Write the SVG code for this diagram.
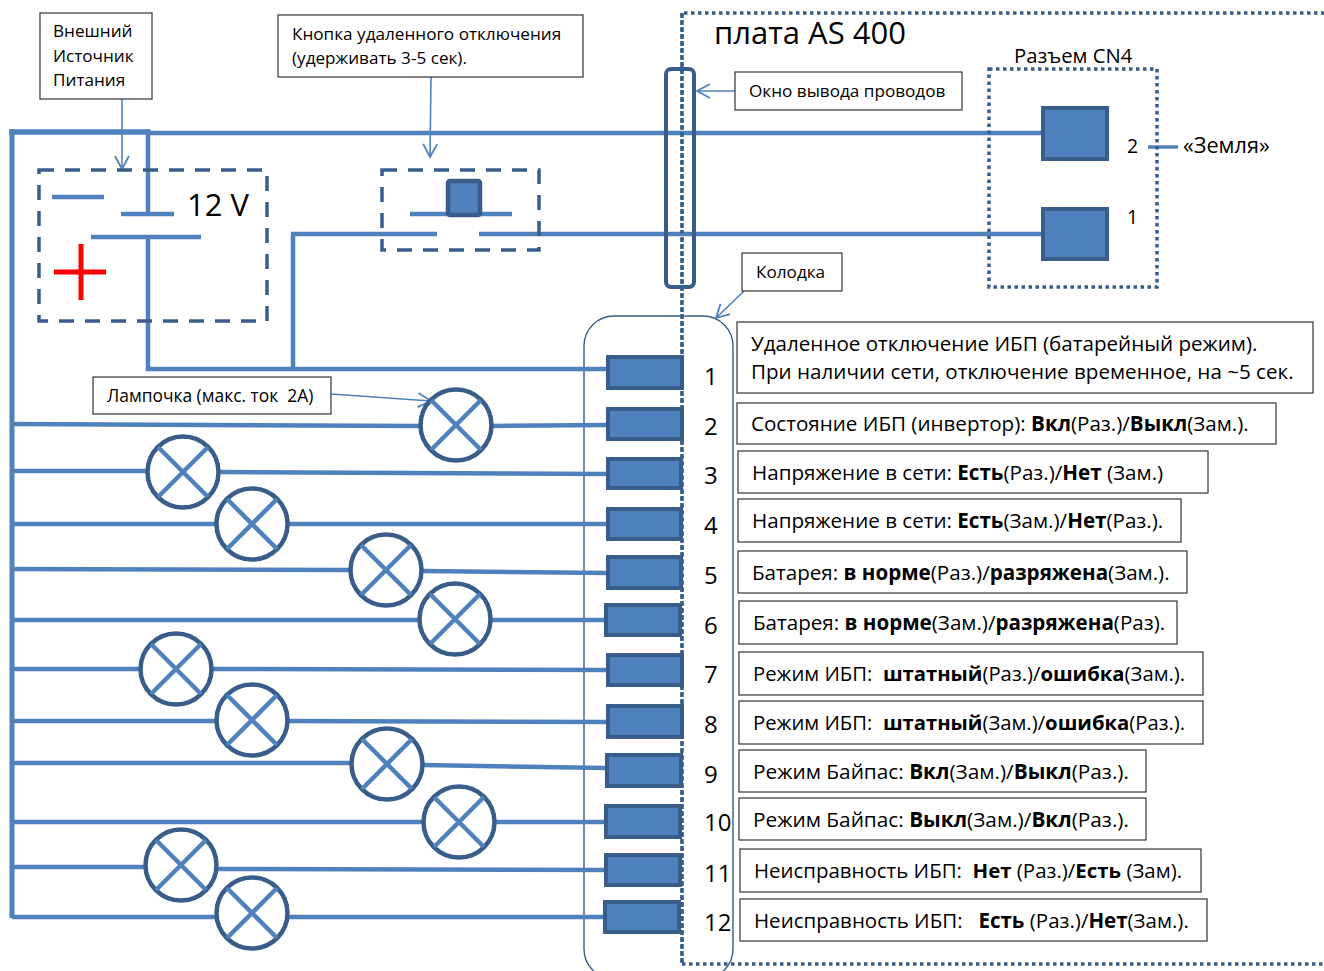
<svg xmlns="http://www.w3.org/2000/svg" width="1324" height="971" viewBox="0 0 1324 971">
<style>
text{font-family:"Open Sans","Noto Sans","Liberation Sans",sans-serif;fill:#000}
.s{font-size:17.15px}
.m{font-size:20.6px}
.n{font-size:24px}
.g{font-size:21.7px}
.p{font-size:19.5px}
.b{font-weight:700}
.box{fill:#fff;stroke:#333;stroke-width:1.2}
.w{fill:none;stroke:#4f81bd;stroke-width:4.5}
.thin{fill:none;stroke:#4f81bd;stroke-width:1.6}
.term{fill:#4f81bd;stroke:#385d8a;stroke-width:4}
.dash{fill:none;stroke:#385d8a;stroke-width:3.5;stroke-dasharray:15 11}
.dot{fill:none;stroke:#385d8a;stroke-width:3.5;stroke-dasharray:3.5 3.5}
.lamp{fill:#fff;stroke:#385d8a;stroke-width:4.5}
.x{stroke:#4f81bd;stroke-width:4.5}
</style>
<defs>
<marker id="arr" markerWidth="20" markerHeight="20" refX="15" refY="8" orient="auto" markerUnits="userSpaceOnUse"><path d="M2 1L15 8L2 15" fill="none" stroke="#4f81bd" stroke-width="1.8"/></marker>
<g id="lampSym"><circle r="35.5" class="lamp"/><path class="x" d="M-25 -25L25 25M-25 25L25 -25"/></g>
</defs>

<g id="board-frame">
<path class="dot" d="M682 963V13H1324"/>
<path class="dot" d="M682 964H1324"/>
</g>
<text x="714" y="44" id="board-label" style="font-size:31px">плата AS 400</text>

<g id="kolodka-body"><rect x="584" y="316" width="149" height="663" rx="30" ry="30" fill="none" stroke="#385d8a" stroke-width="1.4"/></g>

<g id="connectors">
<path class="w" style="stroke-width:5.5" d="M9 132H148"/>
<path class="w" d="M148 133H1043"/>
<path class="w" style="stroke-width:5" d="M12 129V918"/>
<path class="w" d="M148 129V212M148 238V369H608M293 369V234H437M479 234H1043"/>
<path class="w" d="M121 214H174M91 237H201M52 197H104M410 214H512"/>
<path class="w" d="M12 424L420 426M493 426L608 425"/>
<path class="w" d="M12 471H148M220 472L608 474"/>
<path class="w" d="M12 524H216M288 524H608"/>
<path class="w" d="M12 569L350 570M423 571L608 573"/>
<path class="w" d="M12 620H418M491 620H606"/>
<path class="w" d="M12 669H140M212 669L608 670"/>
<path class="w" d="M12 721H216M288 721L608 722"/>
<path class="w" d="M12 763H351M423 765L607 768"/>
<path class="w" d="M12 822H423M495 822H606"/>
<path class="w" d="M12 867H145M217 869L606 870"/>
<path class="w" d="M12 917H216M288 917H605"/>
<path class="w" style="stroke-width:3.5" d="M1148 147H1178"/>
<path class="thin" marker-end="url(#arr)" d="M122 99V169"/>
<path class="thin" marker-end="url(#arr)" d="M431 77L430 157"/>
<path class="thin" marker-end="url(#arr)" d="M735 91H697"/>
<path class="thin" marker-end="url(#arr)" d="M744 291L716 318"/>
<path class="thin" marker-end="url(#arr)" d="M331 394L431 401"/>
</g>

<g id="battery">
<rect x="39" y="170" width="228" height="151" class="dash"/>
<path d="M54 272H106M81 244V300" stroke="#f00" stroke-width="5" fill="none"/>
<text x="187" y="216" style="font-size:31px">12 V</text>
</g>
<g id="switch">
<rect x="382" y="170" width="157" height="80" class="dash"/>
<rect x="448" y="181" width="32" height="34" rx="2" class="term" style="stroke-width:4.5"/>
</g>
<g id="window"><rect x="666" y="69" width="28" height="218" rx="5" fill="none" stroke="#385d8a" stroke-width="4"/></g>
<g id="cn4">
<rect x="989" y="69" width="168" height="218" class="dot"/>
<text x="1014" y="63" style="font-size:20.3px">Разъем CN4</text>
<rect x="1043" y="108" width="64" height="51" class="term"/>
<rect x="1043" y="209" width="64" height="50" class="term"/>
<text x="1127" y="153" class="p">2</text>
<text x="1127" y="224" class="p">1</text>
<text x="1183" y="153" class="g">«Земля»</text>
</g>

<g id="lamps">
<use href="#lampSym" x="456" y="425"/>
<use href="#lampSym" x="183" y="472"/>
<use href="#lampSym" x="252" y="524"/>
<use href="#lampSym" x="386" y="570"/>
<use href="#lampSym" x="455" y="619"/>
<use href="#lampSym" x="176" y="669"/>
<use href="#lampSym" x="252" y="720"/>
<use href="#lampSym" x="387" y="764"/>
<use href="#lampSym" x="459" y="822"/>
<use href="#lampSym" x="181" y="865"/>
<use href="#lampSym" x="252" y="913"/>
</g>

<g id="terminals">
<rect x="608" y="357" width="74" height="31" class="term"/>
<rect x="608" y="409" width="74" height="30" class="term"/>
<rect x="608" y="459" width="73" height="29" class="term"/>
<rect x="608" y="509" width="73" height="30" class="term"/>
<rect x="608" y="557" width="73" height="31" class="term"/>
<rect x="606" y="605" width="74" height="30" class="term"/>
<rect x="608" y="655" width="74" height="30" class="term"/>
<rect x="608" y="706" width="74" height="31" class="term"/>
<rect x="607" y="755" width="74" height="31" class="term"/>
<rect x="606" y="806" width="74" height="31" class="term"/>
<rect x="606" y="855" width="74" height="30" class="term"/>
<rect x="605" y="902" width="74" height="30" class="term"/>
</g>
<path id="board-edge" class="dot" d="M682 13V963"/>

<g id="pin-numbers">
<text x="704" y="385" class="n">1</text>
<text x="704" y="435" class="n">2</text>
<text x="704" y="484" class="n">3</text>
<text x="704" y="534" class="n">4</text>
<text x="704" y="584" class="n">5</text>
<text x="704" y="634" class="n">6</text>
<text x="704" y="683" class="n">7</text>
<text x="704" y="733" class="n">8</text>
<text x="704" y="783" class="n">9</text>
<text x="704" y="831" class="n">10</text>
<text x="704" y="882" class="n">11</text>
<text x="704" y="931" class="n">12</text>
</g>

<g id="label-source"><rect x="40" y="13" width="112" height="86" class="box"/>
<text class="s" x="53" y="37">Внешний</text><text class="s" x="53" y="62">Источник</text><text class="s" x="53" y="86">Питания</text></g>
<g id="label-button"><rect x="278" y="15" width="305" height="62" class="box"/>
<text class="s" x="292" y="40">Кнопка удаленного отключения</text><text class="s" x="292" y="64">(удерживать 3-5 сек).</text></g>
<g id="label-window"><rect x="735" y="72" width="227" height="38" class="box"/><text class="s" x="749" y="97">Окно вывода проводов</text></g>
<g id="label-kolodka"><rect x="742" y="253" width="100" height="38" class="box"/><text class="s" x="756" y="278">Колодка</text></g>
<g id="label-lamp"><rect x="93" y="377" width="238" height="37" class="box"/><text x="107" y="402" xml:space="preserve" style="font-size:17.4px">Лампочка (макс. ток  2А)</text></g>

<g id="desc-1"><rect x="737" y="322" width="576" height="71" class="box"/><text class="m" x="751" y="351">Удаленное отключение ИБП (батарейный режим).</text><text class="m" x="751" y="379">При наличии сети, отключение временное, на ~5 сек.</text></g>
<g id="desc-2"><rect x="737" y="403" width="539" height="41" class="box"/><text class="m" x="751" y="431">Состояние ИБП (инвертор): <tspan class="b">Вкл</tspan>(Раз.)/<tspan class="b">Выкл</tspan>(Зам.).</text></g>
<g id="desc-3"><rect x="738" y="451" width="470" height="42" class="box"/><text class="m" x="752" y="480">Напряжение в сети: <tspan class="b">Есть</tspan>(Раз.)/<tspan class="b">Нет</tspan> (Зам.)</text></g>
<g id="desc-4"><rect x="738" y="499" width="443" height="43" class="box"/><text class="m" x="752" y="528">Напряжение в сети: <tspan class="b">Есть</tspan>(Зам.)/<tspan class="b">Нет</tspan>(Раз.).</text></g>
<g id="desc-5"><rect x="738" y="551" width="449" height="42" class="box"/><text class="m" x="752" y="580">Батарея: <tspan class="b">в норме</tspan>(Раз.)/<tspan class="b">разряжена</tspan>(Зам.).</text></g>
<g id="desc-6"><rect x="739" y="601" width="438" height="43" class="box"/><text class="m" x="753" y="630">Батарея: <tspan class="b">в норме</tspan>(Зам.)/<tspan class="b">разряжена</tspan>(Раз).</text></g>
<g id="desc-7"><rect x="739" y="652" width="464" height="43" class="box"/><text x="753" y="681" xml:space="preserve" style="font-size:20.27px">Режим ИБП:  <tspan class="b">штатный</tspan>(Раз.)/<tspan class="b">ошибка</tspan>(Зам.).</text></g>
<g id="desc-8"><rect x="739" y="701" width="464" height="43" class="box"/><text x="753" y="730" xml:space="preserve" style="font-size:20.27px">Режим ИБП:  <tspan class="b">штатный</tspan>(Зам.)/<tspan class="b">ошибка</tspan>(Раз.).</text></g>
<g id="desc-9"><rect x="739" y="750" width="407" height="42" class="box"/><text x="753" y="779" style="font-size:20.8px">Режим Байпас: <tspan class="b">Вкл</tspan>(Зам.)/<tspan class="b">Выкл</tspan>(Раз.).</text></g>
<g id="desc-10"><rect x="739" y="798" width="407" height="42" class="box"/><text x="753" y="827" style="font-size:20.8px">Режим Байпас: <tspan class="b">Выкл</tspan>(Зам.)/<tspan class="b">Вкл</tspan>(Раз.).</text></g>
<g id="desc-11"><rect x="740" y="849" width="461" height="43" class="box"/><text x="754" y="878" xml:space="preserve" style="font-size:20.45px">Неисправность ИБП:  <tspan class="b">Нет</tspan> (Раз.)/<tspan class="b">Есть</tspan> (Зам).</text></g>
<g id="desc-12"><rect x="740" y="899" width="467" height="42" class="box"/><text x="754" y="928" xml:space="preserve" style="font-size:20.5px">Неисправность ИБП:   <tspan class="b">Есть</tspan> (Раз.)/<tspan class="b">Нет</tspan>(Зам.).</text></g>
</svg>
